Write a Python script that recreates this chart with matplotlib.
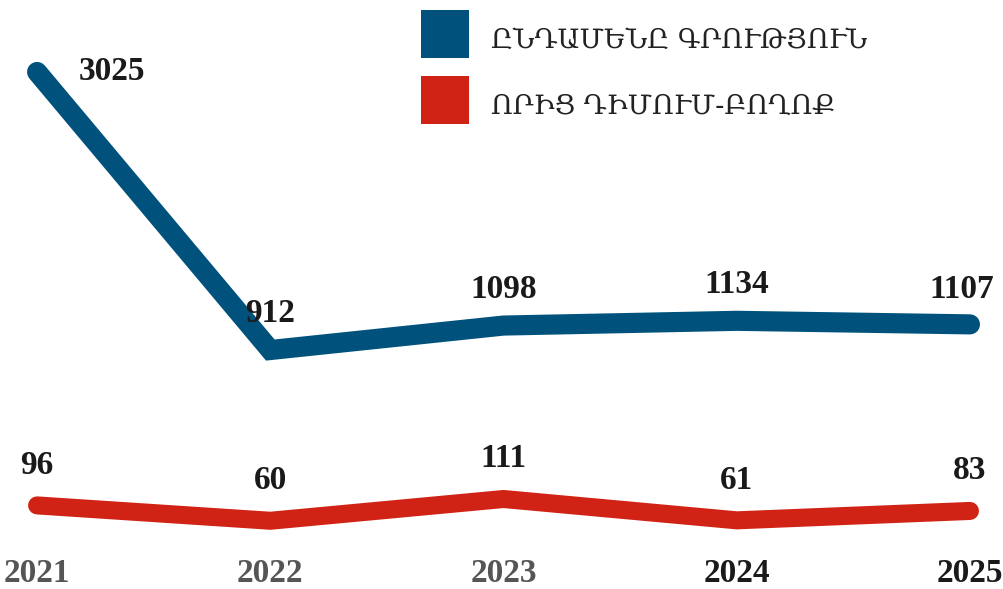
import matplotlib
matplotlib.use("Agg")
from matplotlib import pyplot as plt
from matplotlib.lines import Line2D
from matplotlib.transforms import blended_transform_factory

years = [2021, 2022, 2023, 2024, 2025]
total = [3025, 912, 1098, 1134, 1107]
dimum = [96, 60, 111, 61, 83]
legend_labels = ["ԸՆԴԱՄԵՆԸ ԳՐՈՒԹՅՈՒՆ", "ՈՐԻՑ ԴԻՄՈՒՄ-ԲՈՂՈՔ"]
year_colors = ["#555555", "#555555", "#555555", "#1a1a1a", "#1a1a1a"]

blue = "#00527d"
red = "#d12315"
num_font = dict(family=["Liberation Serif", "DejaVu Serif"], weight="bold", size=24)

fig = plt.figure(figsize=(10.04, 5.89), dpi=100)
ax = fig.add_axes([0, 0, 1, 1])
ax2 = ax.twinx()

ax.plot(years, total, color=blue, lw=14.5, solid_capstyle="round", solid_joinstyle="miter")
ax2.plot(years, dimum, color=red, lw=13, solid_capstyle="round", solid_joinstyle="miter")

ax.set_xlim(2020.841, 2025.146)
ax.set_ylim(-904, 3572)
ax2.set_ylim(-100, 1281)

for a in (ax, ax2):
    a.axis("off")

# value labels
for i, (x, v) in enumerate(zip(years, total)):
    if i == 0:
        ax.annotate(str(v), (x, v), xytext=(54, 0), textcoords="offset points",
                    ha="center", va="center", color="#1a1a1a", **num_font)
    elif i == len(years) - 1:
        ax.annotate(str(v), (x, v), xytext=(-6, 25), textcoords="offset points",
                    ha="center", va="center", color="#1a1a1a", **num_font)
    else:
        ax.annotate(str(v), (x, v), xytext=(0, 26), textcoords="offset points",
                    ha="center", va="center", color="#1a1a1a", **num_font)

for i, (x, v) in enumerate(zip(years, dimum)):
    ax2.annotate(str(v), (x, v), xytext=(0, 29), textcoords="offset points",
                 ha="center", va="center", color="#1a1a1a", **num_font)

# year labels along the bottom
tr = blended_transform_factory(ax.transData, ax.transAxes)
for x, c in zip(years, year_colors):
    ax.text(x, 0.027, str(x), transform=tr, ha="center", va="center", color=c, **num_font)

handles = [Line2D([], [], ls="none", marker="s", markersize=34, color=blue, markeredgewidth=0),
           Line2D([], [], ls="none", marker="s", markersize=34, color=red, markeredgewidth=0)]
fig.legend(handles, legend_labels, loc="upper left", bbox_to_anchor=(421 / 1004, 1 - 20 / 589),
           frameon=False, borderpad=0, borderaxespad=0, handlelength=1.78, handleheight=1.78,
           handletextpad=0.8, labelspacing=1.03,
           prop=dict(family=["DejaVu Serif", "DejaVu Sans"], size=19.5), labelcolor="#222222")

fig.savefig("out.png", dpi=100)
